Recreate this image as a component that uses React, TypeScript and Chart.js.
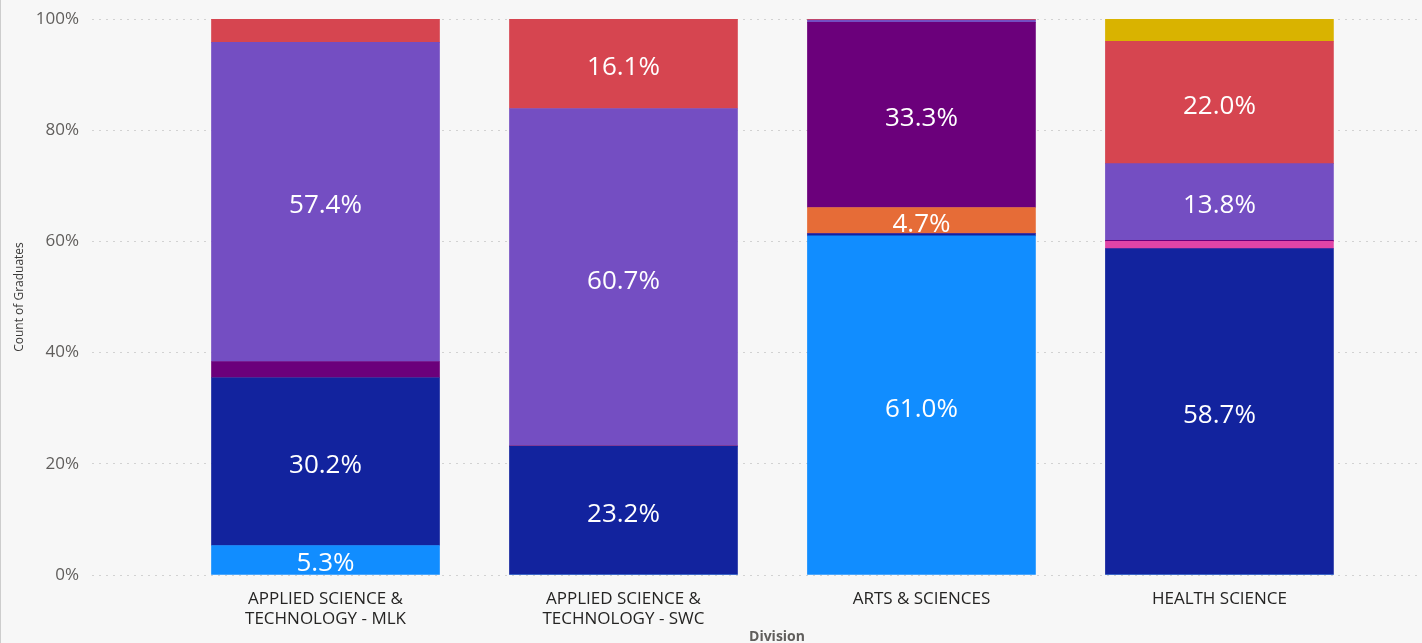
import React, { useEffect, useRef } from "react";
import { Chart, registerables } from "chart.js";

Chart.register(...registerables);

// ---------- data ----------
const categories: (string | string[])[] = [
  ["APPLIED SCIENCE &", "TECHNOLOGY - MLK"],
  ["APPLIED SCIENCE &", "TECHNOLOGY - SWC"],
  "ARTS & SCIENCES",
  "HEALTH SCIENCE",
];

const seriesNames = [
  "Series 1",
  "Series 2",
  "Series 3",
  "Series 4",
  "Series 5",
  "Series 6",
  "Series 7",
  "Series 8",
];

const seriesColors = [
  "#118DFF",
  "#12239E",
  "#E044A7",
  "#E66C37",
  "#6B007B",
  "#744EC2",
  "#D64550",
  "#D9B300",
];

// percentage share of graduates per division (bottom to top)
const series1Values = [5.3, 0, 61.0, 0];
const series2Values = [30.2, 23.2, 0.4, 58.7];
const series3Values = [0, 0, 0, 1.3];
const series4Values = [0, 0, 4.7, 0];
const series5Values = [2.9, 0, 33.3, 0.2];
const series6Values = [57.4, 60.7, 0.4, 13.8];
const series7Values = [4.2, 16.1, 0.2, 22.0];
const series8Values = [0, 0, 0, 4.0];

const seriesValues = [
  series1Values,
  series2Values,
  series3Values,
  series4Values,
  series5Values,
  series6Values,
  series7Values,
  series8Values,
];

const yTickValues = [0, 20, 40, 60, 80, 100];
const LABEL_MIN = 4.5;

const FONT = '"Open Sans", "Noto Sans", sans-serif';

const labelPlugin = {
  id: "segmentLabels",
  afterDatasetsDraw(chart: any) {
    const ctx = chart.ctx;
    ctx.save();
    ctx.font = `26px ${FONT}`;
    ctx.fillStyle = "#FFFFFF";
    ctx.textAlign = "center";
    ctx.textBaseline = "middle";
    chart.data.datasets.forEach((ds: any, di: number) => {
      const meta = chart.getDatasetMeta(di);
      meta.data.forEach((el: any, i: number) => {
        const v = ds.data[i].y;
        if (v < LABEL_MIN) return;
        const { x, y, base } = el.getProps(["x", "y", "base"], true);
        ctx.fillText(v.toFixed(1) + "%", x, (y + base) / 2 + 4);
      });
    });
    ctx.restore();
  },
};

export default function App() {
  const canvasRef = useRef<HTMLCanvasElement | null>(null);

  useEffect(() => {
    document.body.style.margin = "0";
    const canvas = canvasRef.current;
    if (!canvas) return;

    const datasets = seriesValues.map((vals, si) => ({
      label: seriesNames[si],
      backgroundColor: seriesColors[si],
      borderWidth: 0,
      barThickness: 228,
      data: vals.map((v, i) => ({ x: i, y: v })),
    }));

    const chart = new Chart(canvas, {
      type: "bar",
      data: { datasets },
      plugins: [labelPlugin],
      options: {
        animation: false,
        responsive: true,
        maintainAspectRatio: false,
        layout: { padding: { top: 19, right: 9, left: 0, bottom: 0 } },
        plugins: {
          legend: { display: false },
          tooltip: { enabled: false },
        },
        scales: {
          x: {
            type: "linear",
            stacked: true,
            offset: false,
            min: -0.7836,
            max: 3.814,
            grid: { display: false },
            border: { display: false },
            afterBuildTicks: (scale: any) => {
              scale.ticks = categories.map((_, i) => ({ value: i }));
            },
            afterFit: (scale: any) => {
              scale.height = 77;
            },
            ticks: {
              autoSkip: false,
              maxRotation: 0,
              padding: 6,
              color: "#252423",
              font: { family: FONT, size: 17 },
              callback: (v: any) => categories[v as number] as any,
            },
            title: {
              display: true,
              text: "Division",
              color: "#605E5C",
              font: { family: FONT, size: 14, weight: "bold" },
              padding: { top: 0, bottom: 7 },
            },
          },
          y: {
            stacked: true,
            min: 0,
            max: 100,
            afterBuildTicks: (scale: any) => {
              scale.ticks = yTickValues.map((v) => ({ value: v }));
            },
            afterFit: (scale: any) => {
              scale.width = 91;
              scale.paddingTop = 0;
              scale.paddingBottom = 0;
            },
            grid: {
              color: "#D2D2D2",
              lineWidth: 1,
              drawTicks: false,
            },
            border: { display: false, dash: [2, 5] },
            ticks: {
              padding: 13,
              color: "#605E5C",
              font: { family: FONT, size: 17 },
              callback: (v: any) => v + "%",
            },
            title: {
              display: true,
              text: "Count of Graduates",
              color: "#3B3A39",
              font: { family: FONT, size: 12 },
              padding: { top: 11, bottom: 0 },
            },
          },
        },
      } as any,
    });

    return () => chart.destroy();
  }, []);

  return (
    <div
      style={{
        width: 1422,
        height: 643,
        overflow: "hidden",
        background: "#F7F7F7",
        borderLeft: "1px solid #CDCDCD",
        boxSizing: "border-box",
        position: "relative",
      }}
    >
      <div style={{ width: 1470, height: 652, position: "relative" }}>
        <canvas ref={canvasRef} />
      </div>
    </div>
  );
}
